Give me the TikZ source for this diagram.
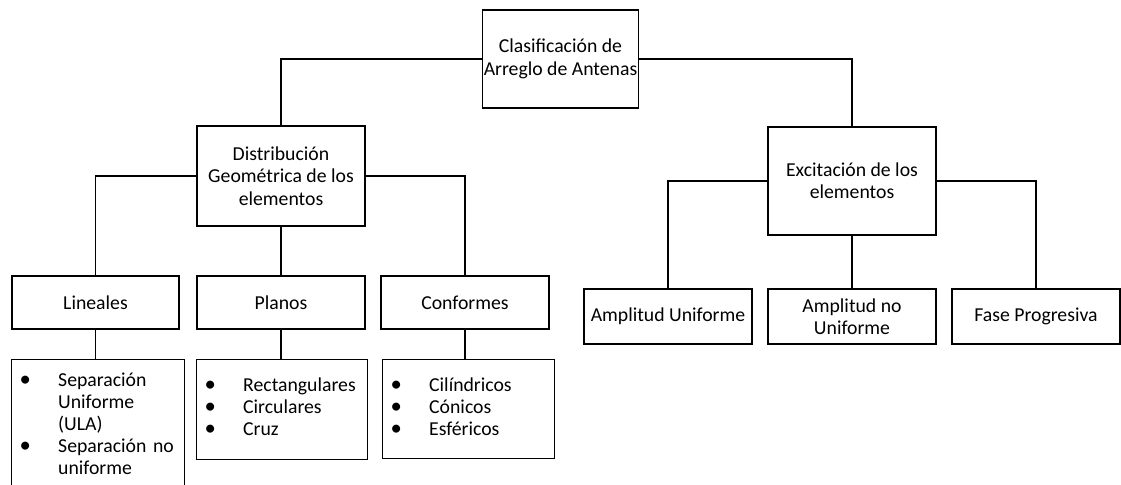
\documentclass[tikz,border=0pt]{standalone}
\usepackage{fontspec}
\setmainfont{Carlito}
\newcommand\bul{{\fontsize{17}{17}\selectfont\textbullet}}
\begin{document}
\begin{tikzpicture}[x=0.75pt,y=-0.75pt,
  box/.style={draw, line width=0.8pt, rectangle, align=center, inner sep=1pt,
    font=\fontsize{14.8}{16.8}\selectfont},
  listbox/.style={draw, line width=0.8pt, rectangle, anchor=north west,
    inner xsep=6pt, inner ysep=0pt, align=left,
    font=\fontsize{14.8}{16.5}\selectfont},
  conn/.style={line width=0.8pt}]
\useasboundingbox (0,0) rectangle (1121,485);
% level 0
\node[box, minimum width=155*0.75pt, minimum height=98*0.75pt] (A) at (560.5,59) {Clasificación de\\Arreglo de Antenas};
% level 1
\node[box, minimum width=168*0.75pt, minimum height=100*0.75pt] (B) at (281,176) {Distribución\\Geométrica de los\\elementos};
\node[box, minimum width=168*0.75pt, minimum height=108*0.75pt] (C) at (852,181) {Excitación de los\\elementos};
% level 2 left
\node[box, minimum width=167*0.75pt, minimum height=53*0.75pt] (L) at (95.5,302.5) {Lineales};
\node[box, minimum width=168*0.75pt, minimum height=53*0.75pt] (P) at (281,302.5) {Planos};
\node[box, minimum width=168*0.75pt, minimum height=53*0.75pt] (F) at (465,302.5) {Conformes};
% level 2 right
\node[box, minimum width=168*0.75pt, minimum height=55*0.75pt] (AU) at (668,316.5) {Amplitud Uniforme};
\node[box, minimum width=168*0.75pt, minimum height=55*0.75pt] (AN) at (852,316.5) {Amplitud no\\Uniforme};
\node[box, minimum width=168*0.75pt, minimum height=55*0.75pt] (FP) at (1036,316.5) {Fase Progresiva};
% level 3 lists
\node[listbox, minimum width=169*0.75pt, minimum height=133*0.75pt, text width=157*0.75pt] (LL) at (11,359)
 {\begin{tabular}{@{}p{29pt}@{}l@{}}
 \bul & Separación\\
  & Uniforme\\
  & (ULA)\\
 \bul & Separación no\\
  & uniforme
 \end{tabular}};
\node[listbox, minimum width=167*0.75pt, minimum height=100*0.75pt, text width=155*0.75pt] (PL) at (196,359)
 {\begin{tabular}{@{}p{29pt}@{}l@{}}
 \bul & Rectangulares\\
 \bul & Circulares\\
 \bul & Cruz
 \end{tabular}};
\node[listbox, minimum width=168*0.75pt, minimum height=99*0.75pt, text width=156*0.75pt] (FL) at (382,359)
 {\begin{tabular}{@{}p{29pt}@{}l@{}}
 \bul & Cilíndricos\\
 \bul & Cónicos\\
 \bul & Esféricos
 \end{tabular}};
% connectors
\draw[conn] (A.west) -| (B.north);
\draw[conn] (A.east) -| (C.north);
\draw[conn] (B.west) -| (L.north);
\draw[conn] (B.east) -| (F.north);
\draw[conn] (B.south) -- (P.north);
\draw[conn] (C.west) -| (AU.north);
\draw[conn] (C.east) -| (FP.north);
\draw[conn] (C.south) -- (AN.north);
\draw[conn] (L.south) -- (L.south |- LL.north);
\draw[conn] (P.south) -- (P.south |- PL.north);
\draw[conn] (F.south) -- (F.south |- FL.north);
\end{tikzpicture}
\end{document}
